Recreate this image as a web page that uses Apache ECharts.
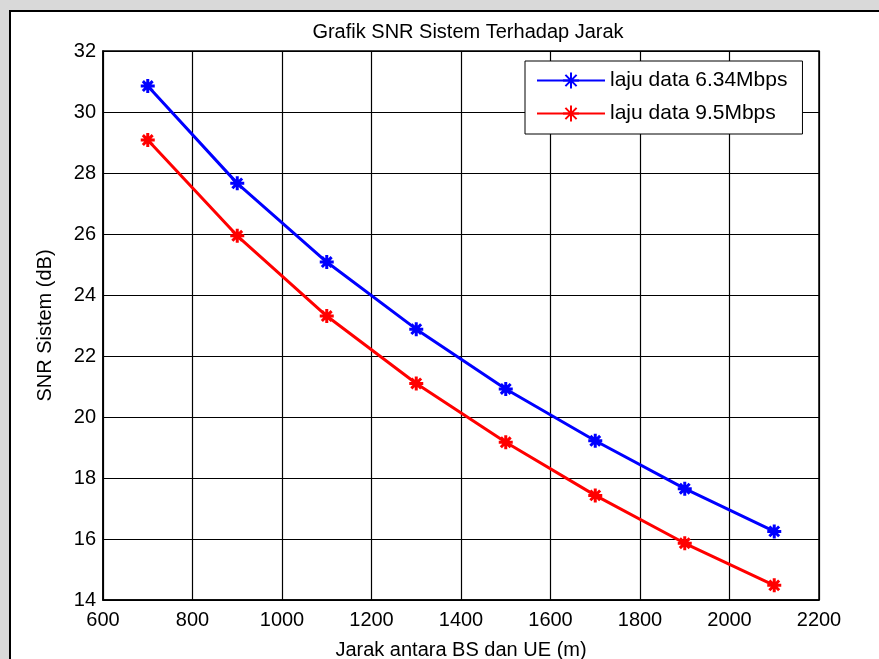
<!DOCTYPE html>
<html>
<head>
<meta charset="utf-8">
<title>Grafik SNR Sistem Terhadap Jarak</title>
<script src="https://cdn.jsdelivr.net/npm/echarts@6/dist/echarts.min.js"></script>
<style>
    html, body { margin: 0; padding: 0; background: #d9d9d9; }
    #frame {
        position: absolute; left: 9px; top: 10px; width: 870px; height: 649px;
        background: #fff; border-left: 2px solid #000; border-top: 2px solid #000;
        box-sizing: border-box;
    }
    #chart { position: absolute; left: 0; top: 0; width: 879px; height: 659px; }
</style>
</head>
<body>
<div id="frame"></div>
<div id="chart"></div>
<script>
// jarak antara BS dan UE (m)
const jarak = [700, 900, 1100, 1300, 1500, 1700, 1900, 2100];
// SNR sistem (dB) untuk tiap laju data
const snr634 = [30.85, 27.66, 25.08, 22.88, 20.92, 19.22, 17.65, 16.25];
const snr95 = [29.08, 25.94, 23.31, 21.1, 19.17, 17.43, 15.86, 14.48];
const seriesNames = ['laju data 6.34Mbps', 'laju data 9.5Mbps'];

// simbol bintang ala MATLAB '*'
const starPath = 'path://M0,-10L0,10M-10,0L10,0M-7,-7L7,7M-7,7L7,-7';
const font = 'Liberation Sans, Arial, sans-serif';

function makeSeries(name, values, color) {
    return {
        name: name,
        type: 'line',
        data: jarak.map((x, i) => [x, values[i]]),
        symbol: starPath,
        symbolSize: 14,
        showAllSymbol: true,
        lineStyle: { color: color, width: 3 },
        itemStyle: { color: color, borderColor: color, borderWidth: 3 },
        emphasis: { disabled: true }
    };
}

const myChart = echarts.init(document.getElementById('chart'));

const option = {
    backgroundColor: 'transparent',
    animation: false,
    textStyle: { fontFamily: font, color: '#000' },
    title: {
        text: 'Grafik SNR Sistem Terhadap Jarak',
        left: 463,
        textAlign: 'center',
        top: 17,
        textStyle: { fontFamily: font, fontSize: 20, fontWeight: 'normal', color: '#000' }
    },
    grid: {
        left: 103,
        top: 51,
        width: 716,
        height: 549,
        outerBoundsMode: 'none',
        containLabel: false,
        show: true,
        borderColor: '#000',
        borderWidth: 1.5,
        backgroundColor: '#fff'
    },
    legend: {
        data: seriesNames,
        orient: 'vertical',
        left: 525,
        top: 61,
        backgroundColor: '#fff',
        borderColor: '#000',
        borderWidth: 1,
        padding: [9, 15, 10, 11],
        itemWidth: 68,
        itemHeight: 20,
        itemGap: 12,
        textStyle: { fontFamily: font, fontSize: 21, color: '#000' }
    },
    xAxis: {
        type: 'value',
        min: 600,
        max: 2200,
        interval: 200,
        name: 'Jarak antara BS dan UE (m)',
        nameLocation: 'middle',
        nameGap: 40,
        nameTextStyle: { fontFamily: font, fontSize: 20, color: '#000' },
        axisLine: { show: true, lineStyle: { color: '#000', width: 1.5 } },
        axisTick: { show: false },
        axisLabel: {
            fontFamily: font, fontSize: 20, color: '#000', margin: 10,
            formatter: (v) => String(v)
        },
        splitLine: { show: true, lineStyle: { color: '#000', width: 1.2 } }
    },
    yAxis: {
        type: 'value',
        min: 14,
        max: 32,
        interval: 2,
        name: 'SNR Sistem (dB)',
        nameLocation: 'middle',
        nameGap: 48,
        nameTextStyle: { fontFamily: font, fontSize: 20, color: '#000' },
        axisLine: { show: true, lineStyle: { color: '#000', width: 1.5 } },
        axisTick: { show: false },
        axisLabel: { fontFamily: font, fontSize: 20, color: '#000', margin: 7 },
        splitLine: { show: true, lineStyle: { color: '#000', width: 1.2 } }
    },
    series: [
        makeSeries(seriesNames[0], snr634, '#0000ff'),
        makeSeries(seriesNames[1], snr95, '#ff0000')
    ]
};

myChart.setOption(option);

window.addEventListener('resize', () => {
    myChart.resize();
});
</script>
</body>
</html>
